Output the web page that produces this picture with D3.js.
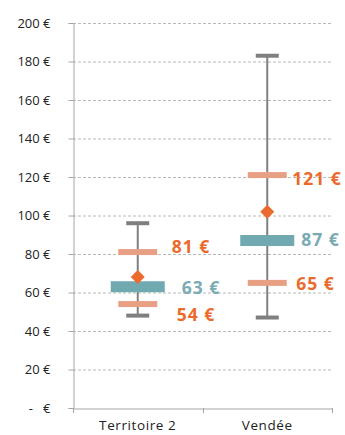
<!DOCTYPE html>
<html>
<head>
<meta charset="utf-8">
<script src="https://cdn.jsdelivr.net/npm/d3@7"></script>
<style>
  body { margin: 0; background: #fff; }
  svg { display: block; }
  text { font-family: "Open Sans", "Lato", sans-serif; }
</style>
</head>
<body>
<svg id="chart" width="345" height="435"></svg>
<script>
// Price distribution per territory
const categories = ["Territoire 2", "Vendée"];
const minValues = [48, 47];
const q1Values = [54, 65];
const medianValues = [63, 87];
const q3Values = [81, 121];
const maxValues = [96, 183];
const meanValues = [68, 102];
const yTicks = [0, 20, 40, 60, 80, 100, 120, 140, 160, 180, 200];

const svg = d3.select("#chart");
const margin = { left: 73, right: 13, top: 23, bottom: 27 };
const W = 345, H = 435;

const x = d3.scaleBand().domain(categories).range([margin.left, W - margin.right]);
const y = d3.scaleLinear().domain([0, 200]).range([H - margin.bottom, margin.top]);

const fmt = v => v === 0 ? "-\u00a0\u00a0\u00a0€" : v + " €";

// label placement (offset from the box centre) for Q1 / median / Q3 labels
const labelLayout = [
  { q1: [39, 10], med: [44, 1], q3: [34, -6] },
  { q1: [29, 1], med: [34, -1], q3: [25, 3] }
];

// gridlines
svg.append("g").selectAll("line").data(yTicks.filter(d => d > 0)).join("line")
  .attr("x1", margin.left).attr("x2", W - margin.right)
  .attr("y1", d => y(d) + 0.5).attr("y2", d => y(d) + 0.5)
  .attr("stroke", "#a6a6a6").attr("stroke-width", 0.8)
  .attr("stroke-dasharray", "3,2");

// y axis
const yAxis = svg.append("g").attr("transform", `translate(${margin.left + 0.5},0)`)
  .call(d3.axisLeft(y).tickValues(yTicks).tickFormat(fmt).tickSize(5).tickPadding(18));
yAxis.select(".domain").attr("stroke", "#a6a6a6");
yAxis.selectAll(".tick line").attr("stroke", "#a6a6a6");
yAxis.selectAll(".tick text").attr("font-size", 13).attr("fill", "#222");

// x axis
const xAxis = svg.append("g").attr("transform", `translate(0,${y(0) + 0.5})`)
  .call(d3.axisBottom(x).tickSize(0).tickPadding(12));
xAxis.select(".domain").attr("stroke", "#a6a6a6");
xAxis.selectAll(".tick text").attr("font-size", 13.5).attr("fill", "#222")
  .attr("letter-spacing", 0.6);
// boundary ticks between categories
const bounds = [margin.left, margin.left + x.bandwidth(), margin.left + 2 * x.bandwidth()];
svg.append("g").selectAll("line").data(bounds).join("line")
  .attr("x1", d => Math.round(d) + 0.5).attr("x2", d => Math.round(d) + 0.5)
  .attr("y1", y(0)).attr("y2", y(0) + 5)
  .attr("stroke", "#a6a6a6");

const cx = c => x(c) + x.bandwidth() / 2;

const label = (xc, v, off, color) =>
  g.append("text").attr("x", xc + off[0]).attr("y", y(v) + off[1] + 6.5)
    .attr("font-size", 17.5).attr("font-weight", "bold").attr("letter-spacing", 1)
    .attr("fill", color).text(v + " €");

const g = svg.append("g");
categories.forEach((c, i) => {
  const xc = cx(c);
  const lay = labelLayout[i];
  // whisker
  g.append("line").attr("x1", xc).attr("x2", xc)
    .attr("y1", y(maxValues[i])).attr("y2", y(minValues[i]))
    .attr("stroke", "#808080").attr("stroke-width", 2);
  [maxValues[i], minValues[i]].forEach(v => {
    g.append("rect").attr("x", xc - 11.5).attr("width", 23)
      .attr("y", y(v) - 2).attr("height", 4).attr("fill", "#7f7f7f");
  });
  // quartiles
  [[q1Values[i], lay.q1], [q3Values[i], lay.q3]].forEach(([v, off]) => {
    g.append("rect").attr("x", xc - 19.5).attr("width", 39)
      .attr("y", y(v) - 3).attr("height", 6).attr("fill", "#e8a084");
    label(xc, v, off, "#eb6a2c");
  });
  // median
  g.append("rect").attr("x", xc - 27).attr("width", 54)
    .attr("y", y(medianValues[i]) - 5.5).attr("height", 11).attr("fill", "#71a9b1");
  label(xc, medianValues[i], lay.med, "#7aaab3");
  // mean
  g.append("path")
    .attr("transform", `translate(${xc},${y(meanValues[i])})`)
    .attr("d", "M0,-7L7,0L0,7L-7,0Z").attr("fill", "#ed6a2e");
});
</script>
</body>
</html>
